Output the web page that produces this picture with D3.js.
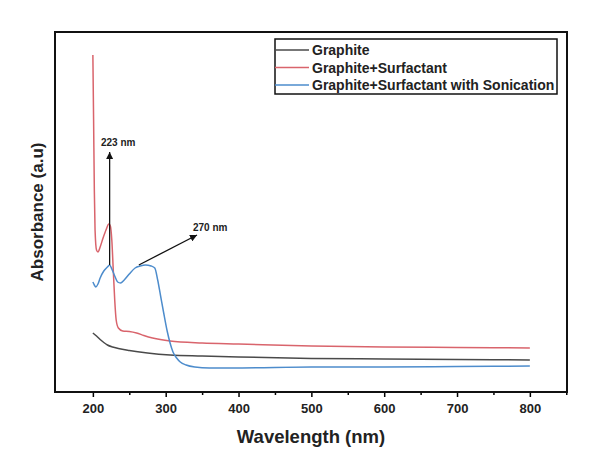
<!DOCTYPE html>
<html lang="en">
<head>
    <meta charset="UTF-8">
    <title>UV-Vis absorbance</title>
    <script src="https://d3js.org/d3.v7.min.js"></script>
    <style>
        body, html {
            margin: 0;
            padding: 0;
            background: white;
        }
        svg text {
            font-family: 'Liberation Sans', Arial, sans-serif;
            font-weight: bold;
        }
    </style>
</head>
<body>
    <script>
        'use strict'

        // wavelength (nm) / absorbance (a.u.)
        const graphiteNm = [200, 205, 210, 215, 220, 227, 235, 250, 275, 306, 350, 400, 500, 600, 700, 800]
        const graphiteAbs = [0.59, 0.56, 0.525, 0.495, 0.47, 0.45, 0.435, 0.415, 0.39, 0.37, 0.36, 0.35, 0.335, 0.33, 0.325, 0.32]

        const surfNm = [200, 201, 202, 203, 205, 207, 210, 214, 218, 222, 224, 226, 228, 230, 232, 235, 241, 250, 260, 270, 282, 306, 350, 400, 500, 600, 700, 800]
        const surfAbs = [3.37, 2.72, 2.02, 1.62, 1.42, 1.40, 1.45, 1.54, 1.62, 1.68, 1.66, 1.52, 1.22, 0.92, 0.72, 0.64, 0.61, 0.605, 0.59, 0.565, 0.54, 0.51, 0.49, 0.48, 0.46, 0.45, 0.445, 0.44]

        const sonNm = [200, 202, 204, 207, 210, 215, 220, 223, 226, 230, 234, 238, 243, 250, 258, 265, 272, 280, 285, 289, 293, 297, 302, 306, 310, 315, 320, 328, 340, 360, 400, 500, 600, 700, 800]
        const sonAbs = [1.10, 1.07, 1.05, 1.08, 1.14, 1.21, 1.25, 1.27, 1.23, 1.16, 1.10, 1.09, 1.12, 1.18, 1.24, 1.26, 1.27, 1.26, 1.24, 1.12, 0.96, 0.80, 0.61, 0.49, 0.40, 0.34, 0.30, 0.27, 0.25, 0.24, 0.24, 0.25, 0.25, 0.255, 0.26]

        const seriesNames = ['Graphite', 'Graphite+Surfactant', 'Graphite+Surfactant with Sonication']
        const seriesColors = ['#4a4a4a', '#d9646c', '#4d8ccc']
        const xTicks = [200, 300, 400, 500, 600, 700, 800]
        const xMinorTicks = [250, 350, 450, 550, 650, 750, 850]

        // annotations: peak wavelength on the sonicated curve, label
        const peakNm = [223, 270]
        const peakLabels = ['223 nm', '270 nm']

        const width = 593, height = 468
        const margin = {top: 32, right: 26, bottom: 76, left: 55}

        const svg = d3.select('body').append('svg')
            .attr('width', width)
            .attr('height', height)

        const x = d3.scaleLinear().domain([148, 851]).range([margin.left, width - margin.right])
        const y = d3.scaleLinear().domain([0, 3.6]).range([height - margin.bottom, margin.top])

        // minor ticks first, then major ones with labels
        svg.append('g')
            .attr('transform', `translate(0, ${height - margin.bottom})`)
            .call(d3.axisBottom(x).tickValues(xMinorTicks).tickSize(3).tickFormat(''))
            .call(g => g.select('.domain').remove())
            .selectAll('line').attr('stroke-width', 1.5)

        const xAxis = svg.append('g')
            .attr('transform', `translate(0, ${height - margin.bottom})`)
            .call(d3.axisBottom(x).tickValues(xTicks).tickSize(5).tickPadding(7).tickFormat(d3.format('d')))
        xAxis.select('.domain').remove()
        xAxis.selectAll('line').attr('stroke-width', 1.5)
        xAxis.selectAll('text').style('font-size', '13px').attr('fill', '#222')

        // frame
        svg.append('rect')
            .attr('x', margin.left)
            .attr('y', margin.top)
            .attr('width', width - margin.left - margin.right)
            .attr('height', height - margin.top - margin.bottom)
            .attr('fill', 'none')
            .attr('stroke', '#111')
            .attr('stroke-width', 2)

        // curves
        const line = d3.line()
            .x(d => x(d[0]))
            .y(d => y(d[1]))
            .curve(d3.curveMonotoneX)

        const series = [
            d3.zip(graphiteNm, graphiteAbs),
            d3.zip(surfNm, surfAbs),
            d3.zip(sonNm, sonAbs)
        ]

        svg.selectAll('path.curve')
            .data(series)
            .enter()
            .append('path')
            .attr('class', 'curve')
            .attr('d', line)
            .attr('fill', 'none')
            .attr('stroke', (d, i) => seriesColors[i])
            .attr('stroke-width', 1.5)

        // axis titles
        svg.append('text')
            .text('Wavelength (nm)')
            .attr('x', (margin.left + width - margin.right) / 2)
            .attr('y', 443)
            .attr('text-anchor', 'middle')
            .style('font-size', '18.5px')
            .attr('fill', '#222')

        svg.append('text')
            .text('Absorbance (a.u)')
            .attr('transform', `translate(43, ${(margin.top + height - margin.bottom) / 2}) rotate(-90)`)
            .attr('text-anchor', 'middle')
            .style('font-size', '17px')
            .attr('fill', '#222')

        // legend
        const legend = svg.append('g')
        legend.append('rect')
            .attr('x', 275)
            .attr('y', 39)
            .attr('width', 282)
            .attr('height', 55)
            .attr('fill', 'white')
            .attr('stroke', '#111')
            .attr('stroke-width', 1.5)

        seriesNames.forEach((name, i) => {
            const ly = 50 + i * 17.5
            legend.append('line')
                .attr('x1', 275).attr('x2', 309)
                .attr('y1', ly).attr('y2', ly)
                .attr('stroke', seriesColors[i])
                .attr('stroke-width', 1.5)
            legend.append('text')
                .text(name)
                .attr('x', 312)
                .attr('y', ly)
                .attr('dy', '0.36em')
                .style('font-size', '14px')
                .attr('fill', '#222')
        })

        // peak arrows
        const defs = svg.append('defs')
        defs.append('marker')
            .attr('id', 'arrow')
            .attr('viewBox', '0 0 10 10')
            .attr('refX', 10)
            .attr('refY', 5)
            .attr('markerWidth', 7)
            .attr('markerHeight', 7)
            .attr('markerUnits', 'userSpaceOnUse')
            .attr('orient', 'auto')
            .append('path')
            .attr('d', 'M0,0 L10,5 L0,10 z')
            .attr('fill', '#111')

        const sonAt = nm => sonAbs[d3.bisectLeft(sonNm, nm)]

        // 223 nm: straight up
        svg.append('line')
            .attr('x1', x(peakNm[0])).attr('y1', y(sonAt(peakNm[0])))
            .attr('x2', x(peakNm[0])).attr('y2', 152)
            .attr('stroke', '#111')
            .attr('stroke-width', 1.3)
            .attr('marker-end', 'url(#arrow)')
        svg.append('text')
            .text(peakLabels[0])
            .attr('x', 101)
            .attr('y', 146)
            .style('font-size', '10px')
            .attr('fill', '#222')

        // 270 nm: diagonal up-right
        svg.append('line')
            .attr('x1', x(peakNm[1]) - 5).attr('y1', y(sonAt(272)))
            .attr('x2', 197).attr('y2', 235)
            .attr('stroke', '#111')
            .attr('stroke-width', 1.3)
            .attr('marker-end', 'url(#arrow)')
        svg.append('text')
            .text(peakLabels[1])
            .attr('x', 193)
            .attr('y', 231)
            .style('font-size', '10px')
            .attr('fill', '#222')
    </script>
</body>
</html>
